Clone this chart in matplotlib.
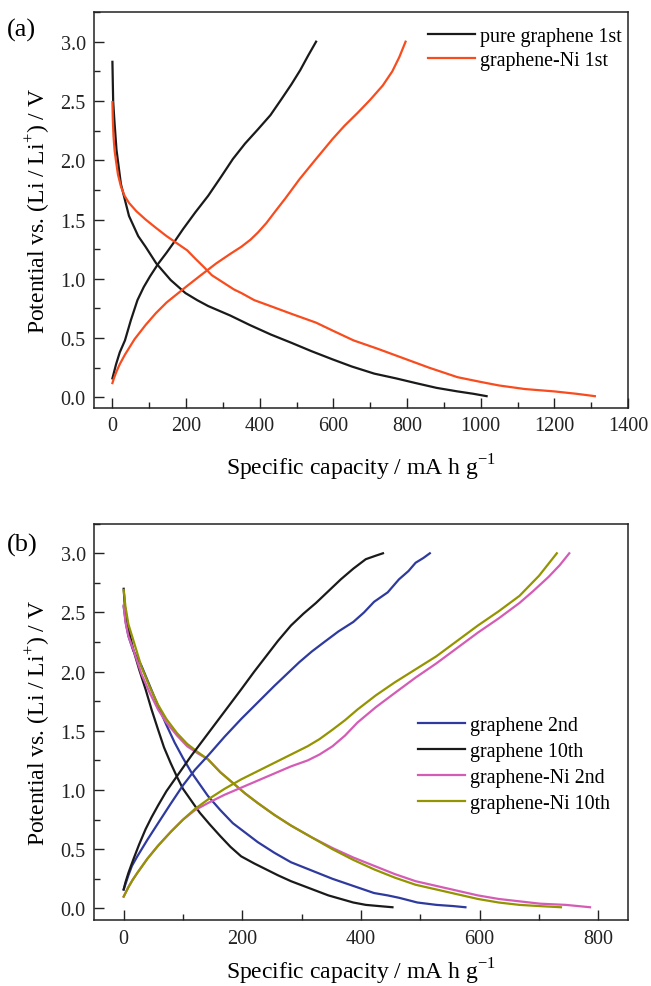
import matplotlib
matplotlib.use("Agg")
import matplotlib.pyplot as plt
from matplotlib.ticker import MultipleLocator

plt.rcParams['font.family'] = ['Liberation Serif', 'DejaVu Serif']
plt.rcParams['mathtext.fontset'] = 'custom'
plt.rcParams['mathtext.rm'] = 'Liberation Serif'

# ---------------- Panel (a) data ----------------
a_pg_dis_x = [0, 2, 5, 11, 23, 45, 70, 90, 119, 158, 198, 230, 260, 320, 373, 430, 486, 540, 598, 650, 711, 770, 824, 880, 937, 980, 1016]
a_pg_dis_y = [2.83, 2.50, 2.35, 2.09, 1.80, 1.53, 1.36, 1.27, 1.13, 0.99, 0.88, 0.82, 0.77, 0.69, 0.61, 0.53, 0.46, 0.39, 0.32, 0.26, 0.20, 0.16, 0.12, 0.08, 0.05, 0.03, 0.01]
a_pg_chg_x = [0, 5, 10, 20, 34, 50, 68, 85, 102, 125, 147, 170, 192, 225, 260, 295, 327, 360, 395, 429, 460, 486, 510, 531, 553]
a_pg_chg_y = [0.16, 0.22, 0.28, 0.38, 0.48, 0.65, 0.82, 0.93, 1.02, 1.13, 1.22, 1.32, 1.42, 1.56, 1.70, 1.86, 2.01, 2.14, 2.26, 2.38, 2.52, 2.64, 2.76, 2.88, 3.00]
a_ni_dis_x = [0, 1, 3, 6, 9, 15, 23, 33, 45, 65, 90, 118, 147, 175, 203, 225, 248, 270, 305, 330, 350, 385, 429, 490, 553, 600, 655, 720, 790, 860, 937, 1000, 1050, 1120, 1200, 1260, 1310]
a_ni_dis_y = [2.49, 2.35, 2.20, 2.08, 2.01, 1.88, 1.78, 1.70, 1.64, 1.57, 1.50, 1.43, 1.36, 1.30, 1.24, 1.17, 1.10, 1.03, 0.96, 0.91, 0.88, 0.82, 0.77, 0.70, 0.63, 0.56, 0.48, 0.41, 0.33, 0.25, 0.17, 0.13, 0.10, 0.07, 0.05, 0.03, 0.01]
a_ni_chg_x = [0, 4, 10, 20, 34, 60, 90, 118, 147, 175, 203, 240, 282, 320, 350, 375, 395, 418, 440, 470, 508, 550, 598, 630, 666, 700, 734, 760, 779, 796]
a_ni_chg_y = [0.12, 0.16, 0.21, 0.28, 0.36, 0.49, 0.61, 0.71, 0.80, 0.87, 0.94, 1.03, 1.13, 1.21, 1.27, 1.33, 1.39, 1.47, 1.56, 1.68, 1.84, 2.00, 2.18, 2.29, 2.40, 2.51, 2.63, 2.75, 2.87, 3.00]
a_labels = ['pure graphene 1st', 'graphene-Ni 1st']

# ---------------- Panel (b) data ----------------
b_g2_dis_x = [0, 4, 8, 16, 30, 44, 58, 72, 86, 100, 114, 128, 142, 163, 184, 205, 226, 254, 282, 317, 352, 387, 422, 445, 464, 495, 527, 555, 576]
b_g2_dis_y = [2.55, 2.40, 2.30, 2.18, 2.05, 1.88, 1.71, 1.55, 1.40, 1.27, 1.15, 1.05, 0.95, 0.83, 0.72, 0.64, 0.56, 0.47, 0.39, 0.32, 0.25, 0.19, 0.13, 0.11, 0.09, 0.05, 0.03, 0.02, 0.01]
b_g2_chg_x = [0, 4, 8, 14, 23, 40, 58, 80, 100, 120, 142, 170, 198, 226, 254, 275, 296, 317, 338, 362, 387, 405, 422, 445, 464, 480, 492, 505, 516]
b_g2_chg_y = [0.16, 0.22, 0.28, 0.36, 0.44, 0.58, 0.72, 0.89, 1.04, 1.17, 1.29, 1.45, 1.60, 1.74, 1.88, 1.98, 2.08, 2.17, 2.25, 2.34, 2.42, 2.50, 2.59, 2.67, 2.78, 2.85, 2.92, 2.96, 3.00]
b_g10_dis_x = [0, 2, 5, 10, 16, 26, 37, 47, 58, 68, 79, 90, 100, 114, 128, 145, 163, 180, 198, 220, 240, 260, 282, 303, 324, 345, 366, 387, 408, 430, 453]
b_g10_dis_y = [2.70, 2.55, 2.45, 2.32, 2.19, 2.02, 1.85, 1.68, 1.51, 1.36, 1.23, 1.11, 1.01, 0.91, 0.81, 0.71, 0.61, 0.52, 0.44, 0.38, 0.33, 0.28, 0.23, 0.19, 0.15, 0.11, 0.08, 0.05, 0.03, 0.02, 0.01]
b_g10_chg_x = [0, 3, 8, 16, 26, 37, 47, 58, 72, 86, 100, 114, 135, 156, 177, 198, 220, 240, 260, 282, 303, 324, 345, 366, 387, 408, 425, 437]
b_g10_chg_y = [0.16, 0.22, 0.30, 0.41, 0.54, 0.67, 0.77, 0.87, 0.99, 1.09, 1.19, 1.29, 1.43, 1.57, 1.71, 1.85, 2.00, 2.13, 2.26, 2.39, 2.49, 2.58, 2.68, 2.78, 2.87, 2.95, 2.98, 3.00]
b_n2_dis_x = [0, 3, 8, 16, 30, 44, 58, 72, 90, 107, 125, 142, 163, 184, 205, 226, 254, 282, 317, 352, 387, 422, 457, 492, 527, 562, 597, 632, 667, 702, 745, 786]
b_n2_dis_y = [2.56, 2.42, 2.30, 2.19, 1.98, 1.82, 1.68, 1.57, 1.46, 1.37, 1.31, 1.26, 1.15, 1.06, 0.97, 0.89, 0.79, 0.70, 0.60, 0.51, 0.43, 0.36, 0.29, 0.23, 0.19, 0.15, 0.11, 0.08, 0.06, 0.04, 0.03, 0.01]
b_n2_chg_x = [0, 4, 8, 15, 23, 40, 58, 80, 100, 120, 142, 170, 198, 226, 254, 282, 310, 330, 352, 373, 394, 425, 457, 492, 527, 562, 597, 632, 667, 690, 716, 735, 751]
b_n2_chg_y = [0.10, 0.14, 0.18, 0.24, 0.30, 0.42, 0.53, 0.65, 0.75, 0.83, 0.89, 0.96, 1.02, 1.08, 1.14, 1.20, 1.25, 1.30, 1.37, 1.46, 1.57, 1.70, 1.82, 1.95, 2.07, 2.20, 2.33, 2.45, 2.58, 2.68, 2.80, 2.90, 3.00]
b_n10_dis_x = [0, 3, 8, 16, 30, 44, 58, 72, 90, 107, 125, 142, 163, 184, 205, 226, 254, 282, 317, 352, 387, 422, 457, 492, 527, 562, 597, 632, 667, 700, 737]
b_n10_dis_y = [2.69, 2.55, 2.40, 2.27, 2.04, 1.87, 1.72, 1.60, 1.48, 1.39, 1.32, 1.26, 1.15, 1.06, 0.97, 0.89, 0.79, 0.70, 0.60, 0.50, 0.41, 0.33, 0.26, 0.20, 0.16, 0.12, 0.08, 0.05, 0.03, 0.02, 0.01]
b_n10_chg_x = [0, 4, 8, 15, 23, 40, 58, 80, 100, 120, 142, 170, 198, 226, 254, 282, 310, 330, 352, 373, 394, 425, 457, 492, 527, 562, 597, 632, 667, 700, 730]
b_n10_chg_y = [0.10, 0.14, 0.18, 0.24, 0.30, 0.42, 0.53, 0.65, 0.75, 0.84, 0.92, 1.01, 1.09, 1.16, 1.23, 1.30, 1.37, 1.43, 1.51, 1.59, 1.68, 1.80, 1.91, 2.02, 2.13, 2.26, 2.39, 2.51, 2.64, 2.81, 3.00]
b_labels = ['graphene 2nd', 'graphene 10th', 'graphene-Ni 2nd', 'graphene-Ni 10th']

BLACK = '#1a1a1a'
ORANGE = '#f84c1e'
BLUE = '#2e3a9e'
MAGENTA = '#d45cb5'
OLIVE = '#949400'
LW = 1.6

fig = plt.figure(figsize=(6.51, 9.87), dpi=100)
axa = fig.add_axes([0.1444, 0.5856, 0.8203, 0.4012])
axb = fig.add_axes([0.1444, 0.0666, 0.8203, 0.4018])

def style(ax, xpad):
    for s in ax.spines.values():
        s.set_linewidth(1.1)
        s.set_color('#222222')
    ax.tick_params(which='major', direction='in', length=7, width=1.0, labelsize=14.5,
                   colors='#222222', pad=6)
    ax.tick_params(which='minor', direction='in', length=4, width=1.0, colors='#222222')
    ax.tick_params(top=False, right=False, which='both')
    ax.yaxis.set_major_locator(MultipleLocator(0.5))
    ax.yaxis.set_minor_locator(MultipleLocator(0.25))
    ax.set_ylabel(r'Potential vs. (Li / Li$^{+}$) / V', fontsize=17, labelpad=6)
    ax.set_xlabel(r'Specific capacity / mA h g$^{-1}$', fontsize=17, labelpad=xpad)

# Panel (a)
axa.plot(a_pg_dis_x, a_pg_dis_y, color=BLACK, lw=LW, label=a_labels[0])
axa.plot(a_pg_chg_x, a_pg_chg_y, color=BLACK, lw=LW)
axa.plot(a_ni_dis_x, a_ni_dis_y, color=ORANGE, lw=LW, label=a_labels[1])
axa.plot(a_ni_chg_x, a_ni_chg_y, color=ORANGE, lw=LW)
axa.set_xlim(-50, 1400)
axa.set_ylim(-0.09, 3.25)
axa.xaxis.set_major_locator(MultipleLocator(200))
axa.xaxis.set_minor_locator(MultipleLocator(100))
style(axa, 12)
axa.legend(loc='upper left', frameon=False, fontsize=14.4, handlelength=2.35,
           handletextpad=0.25, labelspacing=0.25, borderaxespad=0, borderpad=0,
           bbox_to_anchor=(0.6575, 0.9716), bbox_transform=fig.transFigure)
fig.text(0.010, 0.969, '(a)', fontsize=19, ha='left', va='center')

# Panel (b)
axb.plot(b_g2_dis_x, b_g2_dis_y, color=BLUE, lw=LW, label=b_labels[0])
axb.plot(b_g10_dis_x, b_g10_dis_y, color=BLACK, lw=LW, label=b_labels[1])
axb.plot(b_n2_dis_x, b_n2_dis_y, color=MAGENTA, lw=LW, label=b_labels[2])
axb.plot(b_n10_dis_x, b_n10_dis_y, color=OLIVE, lw=LW, label=b_labels[3])
axb.plot(b_g2_chg_x, b_g2_chg_y, color=BLUE, lw=LW)
axb.plot(b_g10_chg_x, b_g10_chg_y, color=BLACK, lw=LW)
axb.plot(b_n2_chg_x, b_n2_chg_y, color=MAGENTA, lw=LW)
axb.plot(b_n10_chg_x, b_n10_chg_y, color=OLIVE, lw=LW)
axb.set_xlim(-50, 850)
axb.set_ylim(-0.1, 3.25)
axb.xaxis.set_major_locator(MultipleLocator(200))
axb.xaxis.set_minor_locator(MultipleLocator(100))
style(axb, 6)
axb.legend(loc='upper left', frameon=False, fontsize=14.4, handlelength=2.35,
           handletextpad=0.25, labelspacing=0.35, borderaxespad=0, borderpad=0,
           bbox_to_anchor=(0.642, 0.2736), bbox_transform=fig.transFigure)
fig.text(0.010, 0.447, '(b)', fontsize=19, ha='left', va='center')

fig.savefig('out.png', dpi=100)
